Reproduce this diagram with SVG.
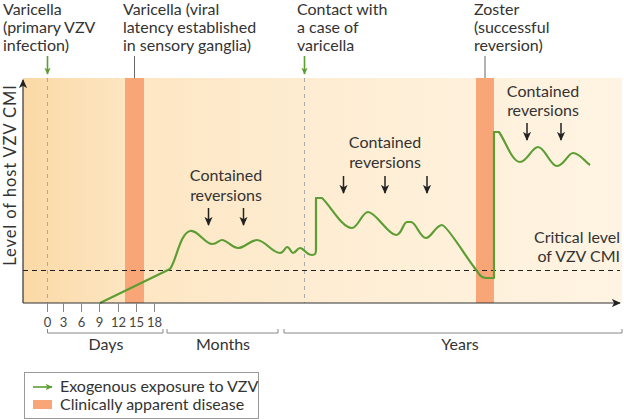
<svg xmlns="http://www.w3.org/2000/svg" width="624" height="420" viewBox="0 0 624 420">
<defs>
<linearGradient id="bg" gradientUnits="userSpaceOnUse" x1="23" y1="0" x2="620" y2="0">
<stop offset="0" stop-color="#fbd9a6"/>
<stop offset="0.18" stop-color="#fde6c2"/>
<stop offset="0.5" stop-color="#feedd3"/>
<stop offset="1" stop-color="#fff4e3"/>
</linearGradient>
<marker id="ga" viewBox="0 0 10 10" refX="9" refY="5" markerWidth="7" markerHeight="7" orient="auto" markerUnits="userSpaceOnUse">
<path d="M0,0.5 L10,5 L0,9.5 L2.5,5 Z" fill="#5c9e34"/>
</marker>
<marker id="ka" viewBox="0 0 10 10" refX="9" refY="5" markerWidth="9" markerHeight="9" orient="auto" markerUnits="userSpaceOnUse">
<path d="M0,0.5 L10,5 L0,9.5 L2.5,5 Z" fill="#222"/>
</marker>
</defs>
<style>
text{font-family:Lato,"Open Sans","Liberation Sans",sans-serif;fill:#333;font-size:16px}
.tk{font-size:13px;fill:#444}
.garrow{stroke:#5c9e34;stroke-width:1.6;fill:none}
.karrow{stroke:#222;stroke-width:1.5;fill:none}
.dv{stroke:#aaa;stroke-width:1;stroke-dasharray:4 4;fill:none}
.bar{fill:#f8a577}
.lead{stroke:#666;stroke-width:1}
.gray{stroke:#888;stroke-width:1;fill:none}
</style>
<g id="background">
<rect x="23" y="78" width="599" height="225" fill="url(#bg)"/>
</g>
<g id="disease-bars">
<rect class="bar" x="125" y="78" width="19" height="225"/>
<rect class="bar" x="476" y="78" width="18" height="225"/>
</g>
<g id="connectors">
<line class="dv" x1="47.5" y1="78" x2="47.5" y2="303"/>
<line class="dv" x1="304.5" y1="78" x2="304.5" y2="303"/>
<line class="garrow" x1="47.5" y1="56" x2="47.5" y2="74" marker-end="url(#ga)"/>
<line class="garrow" x1="304.5" y1="56" x2="304.5" y2="74" marker-end="url(#ga)"/>
<line class="lead" x1="134.5" y1="56" x2="134.5" y2="78"/>
<line class="lead" x1="485" y1="56" x2="485" y2="78"/>
<line x1="23" y1="270.5" x2="620" y2="270.5" stroke="#222" stroke-width="1.2" stroke-dasharray="5 4"/>
<line class="karrow" x1="208.5" y1="208" x2="208.5" y2="225" marker-end="url(#ka)"/>
<line class="karrow" x1="243.5" y1="208" x2="243.5" y2="225" marker-end="url(#ka)"/>
<line class="karrow" x1="343.5" y1="176" x2="343.5" y2="193" marker-end="url(#ka)"/>
<line class="karrow" x1="385" y1="176" x2="385" y2="193" marker-end="url(#ka)"/>
<line class="karrow" x1="427" y1="176" x2="427" y2="193" marker-end="url(#ka)"/>
<line class="karrow" x1="527" y1="123" x2="527" y2="140" marker-end="url(#ka)"/>
<line class="karrow" x1="561" y1="123" x2="561" y2="140" marker-end="url(#ka)"/>
</g>
<g id="curve">
<path d="M100,303 L170,269 C176,262 180,233 190,231 C197,229 205,244 212,244 C217,244 219,240 222,240 C227,240 232,248 238,248 C245,248 250,240 257,240 C265,240 272,253 280,253 C284,253 285,247 287,247 C290,247 291,253 293,253 C296,253 297,248 300,248 C304,248 306,255 312,255 C315,255 316,254 316,250 L316,198 L322,198 C330,205 342,228 352,228 C358,228 362,212 368,212 C376,212 388,235 396,235 C402,235 403,222 407,222 L411,222 C416,222 420,238 426,238 C431,238 436,225 442,225 C447,225 468,260 474,267 C479,274 481,278 486,278 L494,278 L494,132 L499,132 C505,140 512,162 520,162 C527,162 532,147 538,147 C545,147 550,166 557,166 C564,166 568,153 573,153 C580,153 585,162 590,165" fill="none" stroke="#5c9e34" stroke-width="2.2" stroke-linejoin="round"/>
</g>
<g id="axes">
<line x1="23" y1="303" x2="23" y2="80" stroke="#333" stroke-width="1.2" marker-end="url(#ka)"/>
<line x1="23" y1="303" x2="620" y2="303" stroke="#333" stroke-width="1.2" marker-end="url(#ka)"/>
<text transform="translate(15.5,175) rotate(-90)" text-anchor="middle" style="font-size:16.5px;letter-spacing:0.9px">Level of host VZV CMI</text>
</g>
<g id="ticks">
<path class="gray" d="M47.5,303V312 M63.5,303V312 M81.5,303V312 M99.5,303V312 M118.5,303V312 M136.5,303V312 M154.5,303V312"/>
<text class="tk" x="47.5" y="327" text-anchor="middle">0</text>
<text class="tk" x="63.5" y="327" text-anchor="middle">3</text>
<text class="tk" x="81.5" y="327" text-anchor="middle">6</text>
<text class="tk" x="99.5" y="327" text-anchor="middle">9</text>
<text class="tk" x="118.5" y="327" text-anchor="middle">12</text>
<text class="tk" x="136.5" y="327" text-anchor="middle">15</text>
<text class="tk" x="154.5" y="327" text-anchor="middle">18</text>
</g>
<g id="time-brackets">
<path class="gray" d="M47.5,329V333H163V329"/>
<path class="gray" d="M167,329V333H278V329"/>
<path class="gray" d="M284,329V333H622V329"/>
<text x="106" y="350" text-anchor="middle">Days</text>
<text x="223" y="350" text-anchor="middle">Months</text>
<text x="460" y="350" text-anchor="middle">Years</text>
</g>
<g id="label-varicella-primary">
<text x="3" y="15">Varicella</text>
<text x="3" y="33">(primary VZV</text>
<text x="3" y="51">infection)</text>
</g>
<g id="label-varicella-latency">
<text x="123" y="15">Varicella (viral</text>
<text x="123" y="33">latency established</text>
<text x="123" y="51">in sensory ganglia)</text>
</g>
<g id="label-contact">
<text x="297" y="15">Contact with</text>
<text x="297" y="33">a case of</text>
<text x="297" y="51">varicella</text>
</g>
<g id="label-zoster">
<text x="474" y="15">Zoster</text>
<text x="474" y="33">(successful</text>
<text x="474" y="51">reversion)</text>
</g>
<g id="label-contained-1">
<text x="226" y="181" text-anchor="middle">Contained</text>
<text x="226" y="201" text-anchor="middle">reversions</text>
</g>
<g id="label-contained-2">
<text x="385" y="148" text-anchor="middle">Contained</text>
<text x="385" y="168" text-anchor="middle">reversions</text>
</g>
<g id="label-contained-3">
<text x="543" y="97" text-anchor="middle">Contained</text>
<text x="543" y="116" text-anchor="middle">reversions</text>
</g>
<g id="label-critical">
<text x="620" y="243" text-anchor="end">Critical level</text>
<text x="620" y="262" text-anchor="end">of VZV CMI</text>
</g>
<g id="legend">
<rect x="24.5" y="372.5" width="234" height="46" fill="#fff" stroke="#999" stroke-width="1"/>
<line class="garrow" x1="33" y1="387" x2="52" y2="387" marker-end="url(#ga)"/>
<rect class="bar" x="33" y="400" width="19" height="9"/>
<text x="60" y="392">Exogenous exposure to VZV</text>
<text x="60" y="410">Clinically apparent disease</text>
</g>
</svg>
